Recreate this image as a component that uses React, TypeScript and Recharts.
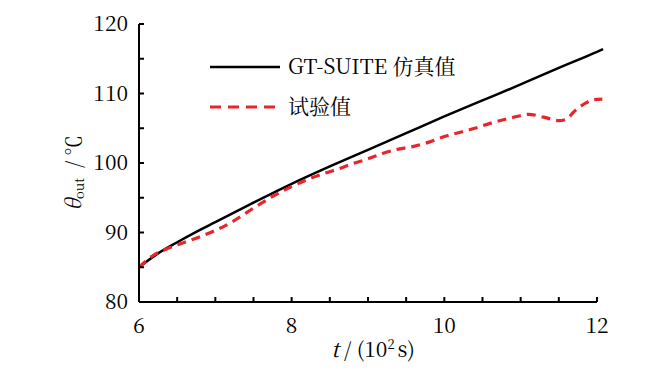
import React from "react";
import { LineChart, Line, XAxis, YAxis, Legend, ReferenceLine, Label } from "recharts";

const simX = [6.0, 6.25, 6.5, 6.75, 7.0, 7.5, 8.0, 8.5, 9.0, 9.5, 10.0, 10.5, 11.0, 11.5, 12.0, 12.08];
const simY = [85.0, 87.0, 88.6, 90.1, 91.5, 94.3, 97.0, 99.5, 101.9, 104.3, 106.7, 109.0, 111.3, 113.7, 116.0, 116.4];

const expX = [6.0, 6.2, 6.4, 6.6, 6.8, 7.0, 7.2, 7.4, 7.6, 7.8, 8.0, 8.2, 8.4, 8.6, 8.8, 9.0, 9.2, 9.4, 9.6, 9.8, 10.0, 10.2, 10.4, 10.6, 10.8, 11.0, 11.1, 11.3, 11.5, 11.6, 11.7, 11.85, 11.95, 12.07];
const expY = [85.0, 86.8, 87.8, 88.6, 89.4, 90.3, 91.4, 92.8, 94.2, 95.5, 96.6, 97.6, 98.4, 99.1, 99.9, 100.6, 101.4, 102.0, 102.4, 103.0, 103.8, 104.4, 105.0, 105.7, 106.3, 106.8, 107.0, 106.6, 106.1, 106.3, 107.4, 108.6, 109.1, 109.2];

const xTicks = [6, 6.5, 7, 7.5, 8, 8.5, 9, 9.5, 10, 10.5, 11, 11.5, 12];
const xLabels = [6, 8, 10, 12];
const yTicks = [80, 85, 90, 95, 100, 105, 110, 115, 120];
const yLabels = [80, 90, 100, 110, 120];

const seriesNames = ["GT-SUITE 仿真值", "试验值"];

const simData = simX.map((x, i) => ({ x, y: simY[i] }));
const expData = expX.map((x, i) => ({ x, y: expY[i] }));

const FONT = "Noto Serif CJK SC";

const XTick = (props: any) => {
  const { x, y, payload } = props;
  const v = payload.value;
  return (
    <g>
      <line x1={x} y1={y} x2={x} y2={y - 5} stroke="#000" strokeWidth={2} />
      {xLabels.includes(v) && (
        <text x={x} y={y + 24} dy="0.35em" textAnchor="middle" fontFamily={FONT} fontSize={21} fill="#000">
          {String(v)}
        </text>
      )}
    </g>
  );
};

const YTick = (props: any) => {
  const { x, y, payload } = props;
  const v = payload.value;
  return (
    <g>
      <line x1={x} y1={y} x2={x + 5} y2={y} stroke="#000" strokeWidth={2} />
      {yLabels.includes(v) && (
        <text x={x - 11} y={y} dy="0.35em" textAnchor="end" fontFamily={FONT} fontSize={21} fill="#000">
          {String(v)}
        </text>
      )}
    </g>
  );
};

const LegendContent = () => (
  <svg width={672} height={372} style={{ position: "absolute", left: 0, top: 0 }}>
    <line x1={210} y1={67} x2={280} y2={67} stroke="#000" strokeWidth={2.5} />
    <text x={288} y={67} dy="0.35em" fontFamily={FONT} fontSize={21} fill="#000">
      {seriesNames[0]}
    </text>
    <line x1={210} y1={107} x2={280} y2={107} stroke="#e8252b" strokeWidth={3.2} strokeDasharray="11 7" />
    <text x={288} y={107} dy="0.35em" fontFamily={FONT} fontSize={21} fill="#000">
      {seriesNames[1]}
    </text>
  </svg>
);

export default function App() {
  return (
    <div style={{ position: "absolute", left: 0, top: 0, width: 672, height: 372, background: "#fff" }}>
      <LineChart width={672} height={372} margin={{ top: 24, right: 67.4, bottom: 0, left: 79 }}>
        <XAxis
          type="number"
          dataKey="x"
          domain={[6, 12.1]}
          ticks={xTicks}
          interval={0}
          height={70}
          tickSize={0}
          tickMargin={0}
          tickLine={false}
          axisLine={false}
          tick={<XTick />}
          allowDataOverflow
        >
          <Label
            content={() => (
              <text x={373} y={350} dy="0.35em" textAnchor="middle" fontFamily={FONT} fontSize={21} fill="#000">
                <tspan fontStyle="italic">t</tspan>
                <tspan dx={5}>/ (10</tspan>
                <tspan fontSize={13} dy={-8}>2</tspan>
                <tspan dy={8} dx={3}>s)</tspan>
              </text>
            )}
          />
        </XAxis>
        <YAxis
          type="number"
          domain={[80, 120]}
          ticks={yTicks}
          interval={0}
          width={60}
          tickSize={0}
          tickMargin={0}
          tickLine={false}
          axisLine={{ stroke: "#000", strokeWidth: 2 }}
          tick={<YTick />}
          allowDataOverflow
        >
          <Label
            content={() => (
              <g transform="translate(81,170) rotate(-90)">
                <text x={-8} y={0} textAnchor="end" fontFamily={FONT} fontSize={21} fill="#000">
                  <tspan fontStyle="italic">θ</tspan>
                  <tspan fontSize={13} dy={3}>out</tspan>
                </text>
                <text x={2} y={0} textAnchor="start" fontFamily={FONT} fontSize={21} fill="#000">
                  /
                </text>
                <text x={14} y={0} textAnchor="start" fontFamily={FONT} fontSize={21} fill="#000">
                  ℃
                </text>
              </g>
            )}
          />
        </YAxis>
        <ReferenceLine
          segment={[{ x: 6, y: 80 }, { x: 12, y: 80 }]}
          stroke="#000"
          strokeWidth={2}
          ifOverflow="visible"
        />
        <Line
          data={simData}
          dataKey="y"
          name={seriesNames[0]}
          type="monotone"
          stroke="#000"
          strokeWidth={2.5}
          dot={false}
          isAnimationActive={false}
        />
        <Line
          data={expData}
          dataKey="y"
          name={seriesNames[1]}
          type="monotone"
          stroke="#e8252b"
          strokeWidth={3.2}
          strokeDasharray="9 6"
          dot={false}
          isAnimationActive={false}
        />
        <Legend
          layout="vertical"
          align="center"
          verticalAlign="middle"
          content={<LegendContent />}
          wrapperStyle={{ left: 0, top: 0, width: 672, height: 372, pointerEvents: "none" }}
        />
      </LineChart>
    </div>
  );
}
